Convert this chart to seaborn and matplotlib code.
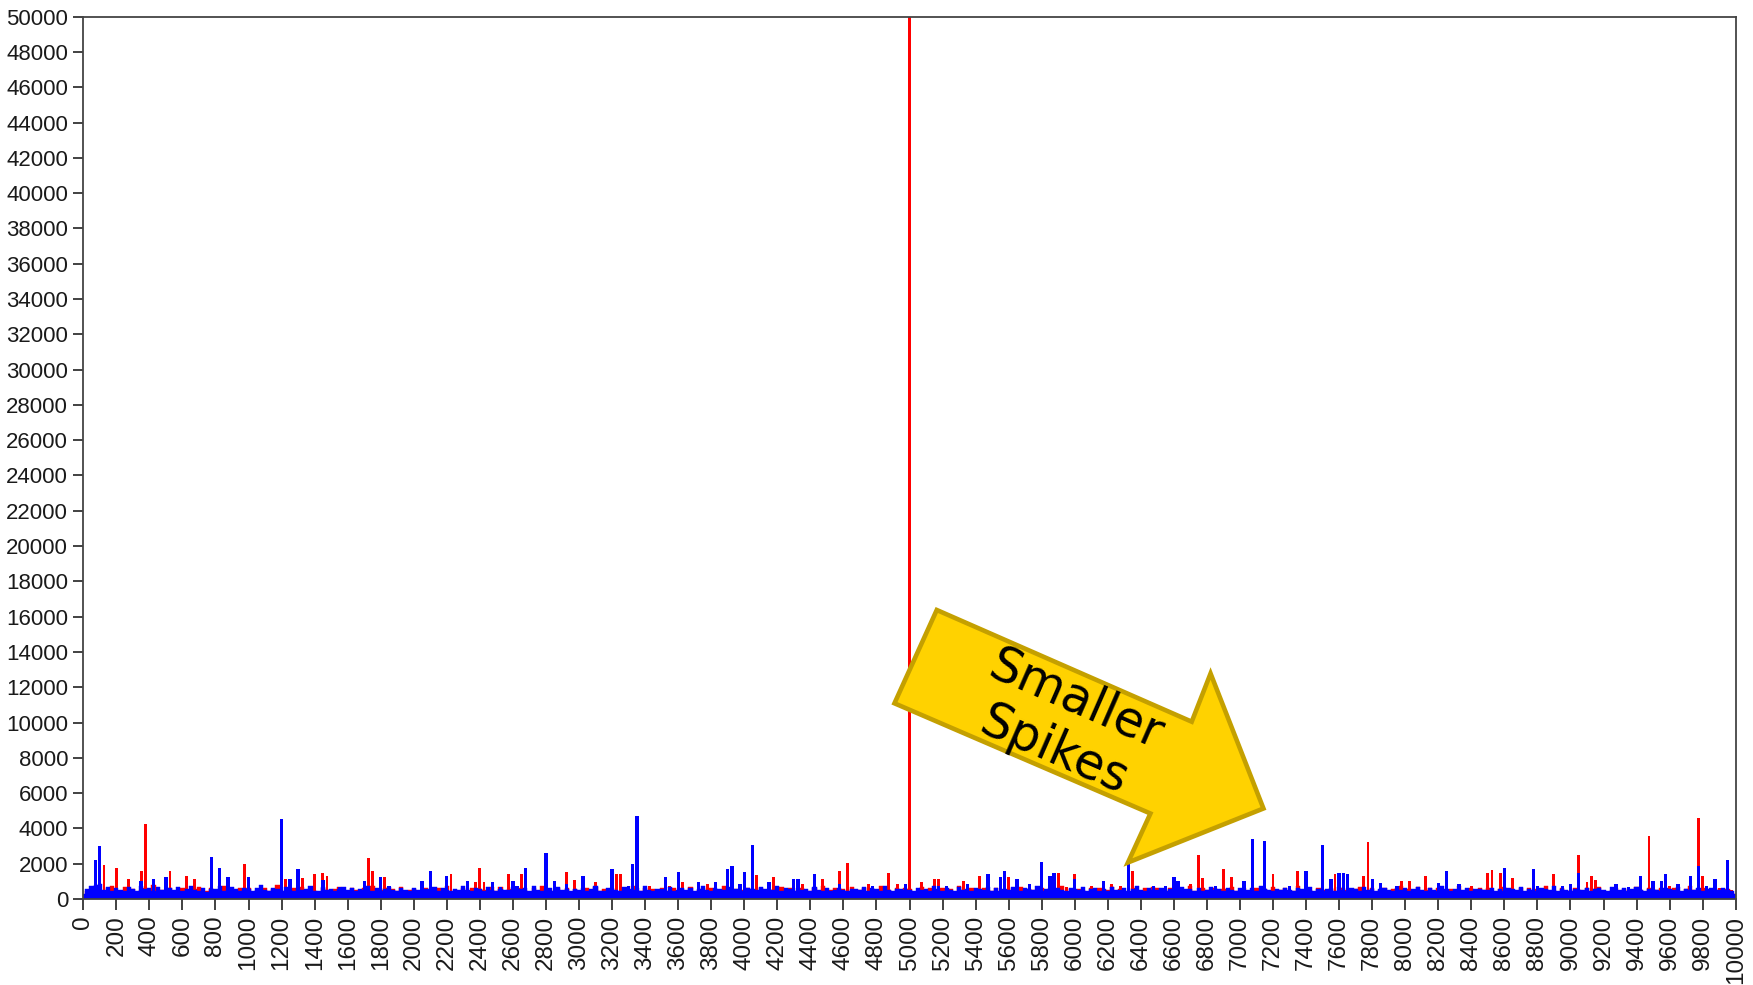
import numpy as np
import pandas as pd
import matplotlib
matplotlib.use("Agg")
import matplotlib.pyplot as plt
from matplotlib.patches import Polygon
import seaborn as sns

# ---------------- data ----------------
# x grid step of the series: 0, 25, ..., 10000
x_positions = list(range(0, 10001, 25))

blue_base = [
    300,570,710,790,850,530,670,450,610,500,430,660,540,480,750,570,620,450,670,510,
    460,600,530,670,440,560,750,500,480,630,420,590,540,710,450,510,670,560,430,620,
    540,480,650,770,510,430,600,550,460,690,530,450,620,500,570,730,480,440,660,510,
    590,450,540,670,500,610,430,560,520,750,480,630,440,550,670,510,460,600,530,480,
    650,510,430,580,540,700,460,620,500,450,570,530,750,490,440,610,560,480,670,520,
    440,590,530,500,660,450,570,620,480,710,530,440,550,600,460,670,510,580,430,540,
    500,630,460,550,710,480,440,600,570,520,450,660,540,490,620,450,750,530,470,590,
    550,480,670,440,530,600,510,650,460,570,730,490,450,610,540,500,660,440,580,520,
    450,610,540,490,670,560,430,520,750,480,600,540,460,630,510,570,440,690,530,480,
    600,470,530,650,500,440,580,560,510,670,450,620,540,480,710,530,460,590,550,500,
    530,440,620,500,570,460,710,550,480,610,520,440,660,510,580,450,630,540,490,670,
    480,600,450,550,520,670,490,440,610,560,500,730,470,540,590,450,650,520,480,610,
    560,500,670,450,540,610,480,570,440,660,530,500,620,460,550,710,490,440,600,530,
    510,630,470,560,500,450,690,540,590,480,620,450,530,670,500,560,440,610,520,480,
    640,480,530,600,450,710,560,500,440,580,530,650,490,460,620,540,510,670,450,570,
    470,590,540,450,660,520,480,610,560,430,690,510,580,450,540,630,500,470,650,530,
    600,460,550,670,500,440,620,530,480,710,560,450,590,520,500,650,440,570,540,490,
    530,650,480,570,450,610,540,500,670,460,590,520,440,630,550,490,710,470,560,510,
    450,580,530,500,640,470,560,610,490,440,670,530,510,600,460,550,680,500,440,590,
    560,510,450,620,540,490,670,450,580,530,500,640,470,560,610,480,530,650,510,430,
    300,
]

red_base = [
    200,450,400,650,500,350,600,750,450,400,700,430,550,350,500,600,450,800,400,530,
    350,650,450,400,600,500,350,550,700,400,450,600,350,500,750,430,550,400,650,450,
    600,400,500,350,650,450,550,800,400,500,350,600,450,700,400,550,450,350,630,500,
    400,550,700,450,350,600,500,400,650,450,750,400,500,600,350,550,450,700,400,500,
    550,450,350,650,500,400,600,450,750,400,500,350,600,450,650,400,550,500,350,700,
    450,700,400,550,450,350,650,500,400,600,450,750,400,500,350,600,450,650,400,550,
    350,500,600,400,700,450,550,350,650,450,400,600,500,750,400,450,600,350,550,500,
    650,400,500,600,350,550,450,700,400,500,650,350,600,450,400,750,500,350,550,450,
    500,600,400,450,650,350,550,500,400,700,450,600,350,500,650,400,450,600,350,750,
    400,500,650,350,550,450,700,400,500,600,350,550,450,750,400,500,350,650,450,600,
    550,350,450,700,400,600,500,350,650,450,550,400,750,500,350,600,450,400,650,500,
    450,650,400,500,350,600,450,700,400,550,500,350,650,450,600,400,500,750,350,550,
    400,550,500,350,650,450,600,400,500,700,350,550,450,400,650,500,350,600,450,700,
    600,400,450,650,350,550,500,400,750,450,350,600,500,400,650,450,550,350,700,450,
    450,600,350,500,650,400,550,450,700,350,500,600,400,450,750,350,550,500,400,650,
    500,350,650,450,400,600,500,350,550,700,450,400,600,350,500,650,450,550,400,750,
    350,550,450,700,400,500,600,350,650,450,400,550,500,750,350,450,600,400,650,500,
    600,450,400,550,700,350,500,450,650,400,600,350,550,450,750,400,500,350,600,450,
    450,650,500,350,600,400,550,700,450,350,500,650,400,550,450,350,700,500,400,600,
    400,500,600,450,350,650,450,400,550,750,500,350,600,450,400,650,500,450,550,350,
    250,
]

blue_spike_x = [87,111,343,424,504,777,837,884,988,1210,1250,1291,1462,1549,1711,1791,1856,
                2047,2088,2211,2320,2481,2532,2599,2632,2683,2804,2840,2914,3026,3204,3288,3329,
                3341,3516,3611,3725,3816,3905,3934,3964,4010,4045,4156,4297,4323,4424,4576,4779,
                4974,5180,5215,5346,5471,5544,5574,5644,5725,5800,5840,5887,6002,6183,6335,6480,
                6561,6603,6627,6839,7026,7077,7141,7303,7404,7504,7545,7595,7625,7651,7791,7857,
                7958,8200,8251,8322,8588,8695,8766,8791,8942,8998,9054,9270,9340,9431,9512,9538,
                9572,9639,9723,9764,9820,9875,9940]
blue_spike_y = [2210,3020,1040,1133,1227,2400,1775,1227,1227,4515,1133,1681,1077,680,1040,1227,755,
                1040,1605,1303,1040,945,680,1040,755,1775,2588,1040,850,1303,1681,755,1964,
                4703,1227,1510,945,945,1681,1870,850,1510,3060,945,1133,1133,1398,850,755,
                850,755,755,850,1398,1227,1605,1115,850,2115,1303,1492,1133,1040,2021,755,
                755,1227,1040,718,1040,3400,3306,755,1605,3060,1133,1492,1492,1398,1115,926,
                755,926,1585,850,1775,680,1681,755,755,850,1492,850,680,1303,1040,1040,
                1398,850,1303,1870,755,1115,2210]

red_spike_x = [121,192,268,343,363,520,626,686,787,972,1230,1321,1408,1438,1482,1715,1759,1825,
               2219,2364,2400,2426,2582,2657,2734,2935,2965,3097,3218,3238,3359,3419,3561,3635,
               3775,3893,4081,4186,4347,4468,4580,4616,4739,4840,4878,4921,5000,5075,5139,5165,
               5322,5427,5592,5861,5901,5947,6012,6102,6213,6274,6345,6688,6762,6779,6904,6955,
               7158,7212,7353,7569,7747,7771,7984,8035,8120,8403,8509,8523,8570,8644,8907,9038,
               9088,9129,9149,9421,9471,9602,9774,9800,9905,9977]
red_spike_y = [1927,1775,1133,1570,4233,1605,1320,1133,1585,1964,1133,1208,1398,1492,1303,2304,1605,1227,
               1416,983,1775,945,1398,1398,680,1510,1077,945,1416,1416,1133,755,718,983,
               850,718,1360,1227,850,1133,1585,2058,850,680,1492,850,50000,945,1133,1133,
               1040,1303,1265,1040,1492,680,1398,755,850,755,1605,850,2493,1170,1681,1227,
               1870,1416,1605,1398,1303,3249,1040,1040,1303,755,1492,1643,1492,1208,1398,2493,
               945,1303,1077,1303,3570,755,4609,1303,623,490]

x_ticks = list(range(0, 10001, 200))
y_ticks = list(range(0, 50001, 2000))

annotation_text = "Smaller\nSpikes"

assert len(blue_base) == len(x_positions) and len(red_base) == len(x_positions)
assert len(blue_spike_x) == len(blue_spike_y) and len(red_spike_x) == len(red_spike_y)

base_red = pd.DataFrame({"x": x_positions, "value": red_base})
base_blue = pd.DataFrame({"x": x_positions, "value": blue_base})
spk_red = pd.DataFrame({"x": red_spike_x, "value": red_spike_y})
spk_blue = pd.DataFrame({"x": blue_spike_x, "value": blue_spike_y})

# ---------------- style ----------------
sns.set_style("ticks")
plt.rcParams["font.family"] = ["Liberation Sans", "DejaVu Sans"]

fig = plt.figure(figsize=(17.53, 9.85), dpi=100)
ax = fig.add_axes([0.04752, 0.08731, 0.94261, 0.89574])

bins = dict(x="x", weights="value", binwidth=25, binrange=(-12.5, 10012.5),
            element="bars", fill=True, alpha=1, ax=ax)
# red series (behind)
sns.histplot(data=base_red, color="#ff0000", edgecolor="#ff0000", linewidth=0.3, shrink=1.0, **bins)
sns.histplot(data=spk_red, color="#ff0000", linewidth=0, shrink=0.7, **bins)
# blue series (front)
sns.histplot(data=base_blue, color="#0000ff", edgecolor="#0000ff", linewidth=0.3, shrink=1.0, **bins)
sns.histplot(data=spk_blue, color="#0000ff", linewidth=0, shrink=0.8, **bins)

ax.set_xlim(0, 10000)
ax.set_ylim(0, 50000)
ax.set_xticks(x_ticks)
ax.set_xticklabels([str(t) for t in x_ticks], rotation=90)
ax.set_yticks(y_ticks)
ax.set_yticklabels([str(t) for t in y_ticks])
ax.set_xlabel("")
ax.set_ylabel("")

ax.tick_params(axis="both", direction="out", width=1.3, color="#333333", labelcolor="#1a1a1a")
ax.tick_params(axis="y", length=7, labelsize=16, pad=4)
ax.tick_params(axis="x", length=8, labelsize=17.5, pad=4)
for s in ax.spines.values():
    s.set_visible(True)
    s.set_color("#444444")
    s.set_linewidth(1.3)

# ---------------- annotation arrow ----------------
arrow_pts = [(5165, 16378), (6708, 10048), (6822, 12779), (7142, 5129),
             (6322, 2068), (6458, 4845), (4909, 11090)]
poly = Polygon(arrow_pts, closed=True, facecolor="#ffd200", edgecolor="#c4a000",
               linewidth=3.3, joinstyle="miter", zorder=5, transform=ax.transData)
ax.add_patch(poly)
ax.text(5941, 9861, annotation_text, rotation=-23.65, rotation_mode="anchor",
        ha="center", va="center", multialignment="center", fontsize=35,
        family=["DejaVu Sans"], color="black", zorder=6)

fig.savefig("out.png", dpi=100)
